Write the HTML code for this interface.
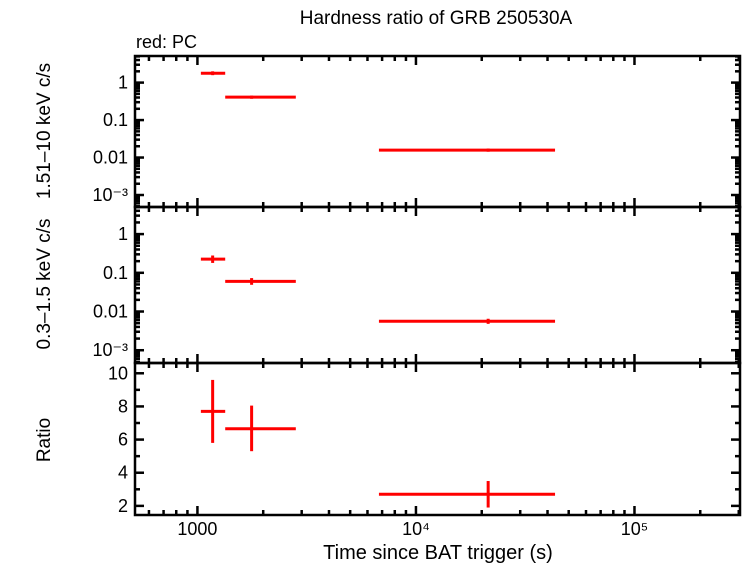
<!DOCTYPE html>
<html><head><meta charset="utf-8"><style>
html,body{margin:0;padding:0;background:#fff;}
svg{display:block;font-family:"Liberation Sans",sans-serif;}
</style></head><body>
<svg id="c" width="742" height="566" viewBox="0 0 742 566">
<text x="436" y="24" font-size="19" text-anchor="middle">Hardness ratio of GRB 250530A</text>
<text x="136" y="48" font-size="18">red: PC</text>
<text transform="translate(50,131) rotate(-90)" font-size="19" text-anchor="middle">1.51–10 keV c/s</text>
<text transform="translate(50,284) rotate(-90)" font-size="19" text-anchor="middle">0.3–1.5 keV c/s</text>
<text transform="translate(50,440) rotate(-90)" font-size="19" text-anchor="middle">Ratio</text>
<text x="438" y="559" font-size="20" text-anchor="middle">Time since BAT trigger (s)</text>
<g id="g"></g>
</svg>
<script>
const timeCenter=[1174,1770,21400];
const timeLow=[1037,1340,6770];
const timeHigh=[1340,2820,43300];
const hardRate=[1.78,0.41,0.0158];
const hardErrLo=[1.58,0.37,0.0143];
const hardErrHi=[2.0,0.45,0.0174];
const softRate=[0.226,0.06,0.0056];
const softErrLo=[0.18,0.049,0.0048];
const softErrHi=[0.28,0.073,0.0065];
const ratioVal=[7.7,6.65,2.7];
const ratioLo=[5.8,5.3,1.9];
const ratioHi=[9.6,8.05,3.5];
const xTickLabels=["1000","10⁴","10⁵"];
const logTickLabels=["1","0.1","0.01","10⁻³"];
const ratioTickLabels=["2","4","6","8","10"];

const NS="http://www.w3.org/2000/svg";
const g=document.getElementById('g');
const L=135,R=740;
const xMin=Math.log10(518),xMax=Math.log10(304000);
const X=v=>L+(Math.log10(v)-xMin)/(xMax-xMin)*(R-L);
const panels=[{t:56,b:207,lo:-3.32,hi:0.71},{t:207,b:363,lo:-3.33,hi:0.7},{t:363,b:515,lo:1.45,hi:10.62}];
const Ylog=(p,v)=>p.b-(Math.log10(v)-p.lo)/(p.hi-p.lo)*(p.b-p.t);
const Ylin=(p,v)=>p.b-(v-p.lo)/(p.hi-p.lo)*(p.b-p.t);
function el(tag,a){const e=document.createElementNS(NS,tag);for(const k in a)e.setAttribute(k,a[k]);g.appendChild(e);return e;}
function line(x1,y1,x2,y2,c,w){return el('line',{x1,y1,x2,y2,stroke:c,'stroke-width':w});}

panels.forEach((p,pi)=>{
  const r=el('rect',{x:L,y:p.t,width:R-L,height:p.b-p.t,fill:'none',stroke:'#000','stroke-width':2.5});
  
  
  for(let d=2;d<=5;d++)for(let m=1;m<10;m++){
    const v=m*Math.pow(10,d);const x=X(v);if(x<L||x>R)continue;
    const len=m==1?9:5;
    line(x,p.t,x,p.t+len,'#000',2.5);line(x,p.b,x,p.b-len,'#000',2.5);
  }
  if(pi<2){
    for(let d=-4;d<=1;d++)for(let m=1;m<10;m++){
      const v=m*Math.pow(10,d);const y=Ylog(p,v);if(y<p.t||y>p.b)continue;
      const len=m==1?9:5;
      line(L,y,L+len,y,'#000',2.5);line(R,y,R-len,y,'#000',2.5);
    }
    [1,0.1,0.01,0.001].forEach((v,i)=>{
      const t=el('text',{x:L-7,y:Ylog(p,v)+6,'font-size':18,'text-anchor':'end'});
      t.textContent=logTickLabels[i];
      
      
    });
  } else {
    for(let v=2;v<=10;v++){const y=Ylin(p,v);const len=v%2==0?9:5;
      line(L,y,L+len,y,'#000',2.5);line(R,y,R-len,y,'#000',2.5);}
    [2,4,6,8,10].forEach((v,i)=>{
      const t=el('text',{x:L-7,y:Ylin(p,v)+6,'font-size':18,'text-anchor':'end'});
      t.textContent=ratioTickLabels[i];
      
      
    });
  }
});
[1000,1e4,1e5].forEach((v,i)=>{
  const t=el('text',{x:X(v),y:535,'font-size':18,'text-anchor':'middle'});
  t.textContent=xTickLabels[i];
  
  
});
const red='#ff0000';
for(let i=0;i<timeCenter.length;i++){
  const p0=panels[0],p1=panels[1],p2=panels[2];
  let a=line(X(timeLow[i]),Ylog(p0,hardRate[i]),X(timeHigh[i]),Ylog(p0,hardRate[i]),red,3);
  
  
  line(X(timeCenter[i]),Ylog(p0,hardErrLo[i]),X(timeCenter[i]),Ylog(p0,hardErrHi[i]),red,3);
  let b=line(X(timeLow[i]),Ylog(p1,softRate[i]),X(timeHigh[i]),Ylog(p1,softRate[i]),red,3);
  
  
  line(X(timeCenter[i]),Ylog(p1,softErrLo[i]),X(timeCenter[i]),Ylog(p1,softErrHi[i]),red,3);
  let c=line(X(timeLow[i]),Ylin(p2,ratioVal[i]),X(timeHigh[i]),Ylin(p2,ratioVal[i]),red,3);
  
  
  line(X(timeCenter[i]),Ylin(p2,ratioLo[i]),X(timeCenter[i]),Ylin(p2,ratioHi[i]),red,3);
}
</script>
</body></html>
